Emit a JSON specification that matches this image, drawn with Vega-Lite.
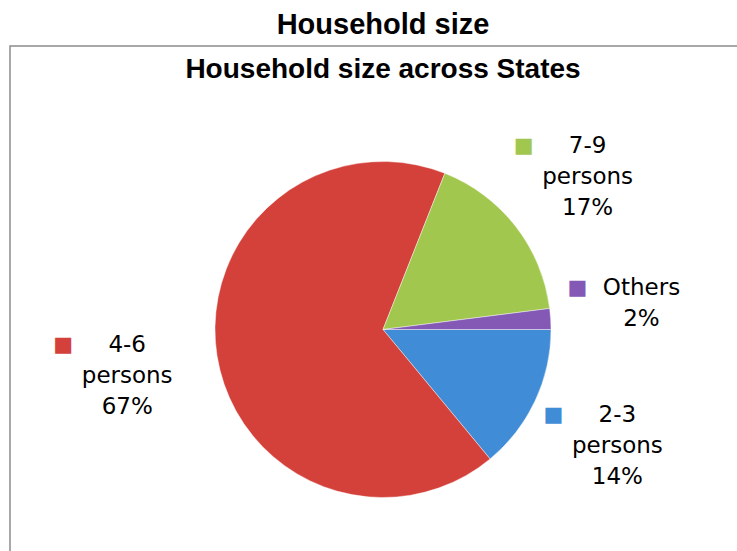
{
  "$schema": "https://vega.github.io/schema/vega-lite/v6.json",
  "width": 746,
  "height": 567,
  "autosize": {"type": "none"},
  "padding": {"left": 10, "top": 46, "right": -19, "bottom": -62},
  "background": "white",
  "view": {"stroke": "#8c8c8c", "strokeWidth": 1.5},
  "config": {"view": {"stroke": "#8c8c8c", "strokeWidth": 1.5}},
  "title": {
    "text": "Household size",
    "subtitle": "Household size across States",
    "anchor": "middle",
    "frame": "group",
    "font": "Liberation Sans",
    "fontSize": 29,
    "fontWeight": "bold",
    "color": "#000000",
    "subtitleFont": "Liberation Sans",
    "subtitleFontSize": 28,
    "subtitleFontWeight": "bold",
    "subtitleColor": "#000000",
    "subtitlePadding": 16,
    "offset": -38
  },
  "data": {
    "values": [
      {"category": "2-3 persons", "share": 14, "label": "2-3 persons 14%"},
      {"category": "4-6 persons", "share": 67, "label": "4-6 persons 67%"},
      {"category": "7-9 persons", "share": 17, "label": "7-9 persons 17%"},
      {"category": "Others", "share": 2, "label": "Others 2%"}
    ]
  },
  "encoding": {
    "theta": {"field": "share", "type": "quantitative", "stack": true, "scale": {"range": [1.5707963, 7.8539816]}},
    "color": {
      "field": "category",
      "type": "nominal",
      "scale": {"domain": ["2-3 persons", "4-6 persons", "7-9 persons", "Others"], "range": ["#418cd6", "#d4413b", "#a2c74f", "#8459b5"]},
      "legend": null
    }
  },
  "layer": [
    {"mark": {"type": "arc", "outerRadius": 168, "stroke": "#ffffff", "strokeWidth": 0.6, "strokeOpacity": 0.7}},
    {
      "mark": {"type": "text", "radius": 259, "font": "DejaVu Sans", "fontSize": 23, "lineBreak": " ", "lineHeight": 31, "align": "center", "baseline": "middle", "dy": -25},
      "encoding": {"text": {"field": "label"}, "color": {"value": "#000000"}}
    },
    {
      "mark": {"type": "text", "radius": 259, "font": "DejaVu Sans", "fontSize": 21, "align": "center", "baseline": "middle", "dx": -64, "dy": -25, "text": "■"}
    }
  ]
}
